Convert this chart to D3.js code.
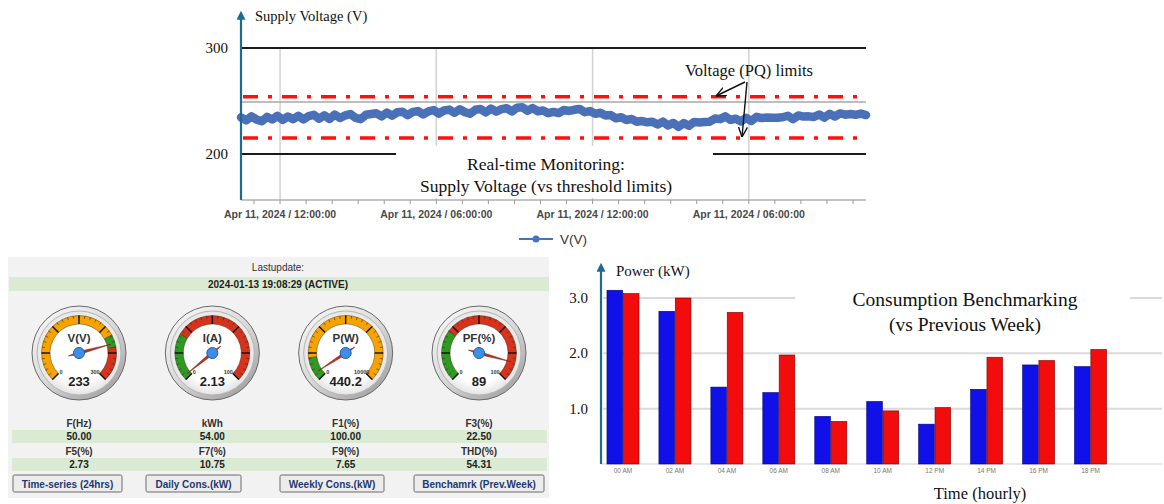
<!DOCTYPE html>
<html>
<head>
<meta charset="utf-8">
<script src="https://cdn.jsdelivr.net/npm/d3@7"></script>
<style>
  body { margin: 0; background: #fff; }
  svg { display: block; }
</style>
</head>
<body>
<script>
// ---------- data: supply voltage (24 h, one reading every 0.2 h) ----------
const voltHours = d3.range(0, 24.0001, 0.2);
const voltValues = [
  234.5, 231.8, 235.6, 232.4, 230.9, 235,
  232.6, 236, 232.2, 235.4, 232.9,
  236, 232.6, 235.8, 236.9, 233.3,
  236.5, 233.1, 237.2, 233.9, 236.4,
  237.7, 234.1, 232.9, 237.1, 237.8,
  238.4, 235.5, 239.1, 236.1, 239.3,
  239.9, 236.7, 239.7, 240.5, 237.3,
  240.3, 241.4, 238.1, 241.1, 241.9,
  238.9, 242.1, 239.5, 238, 241.7,
  242.4, 239.3, 242.9, 239.9, 242.3,
  243.2, 240.1, 243.7, 244.1, 240.7,
  243.4, 240.3, 241, 238.5, 239.7,
  238.6, 241.5, 240.6, 241.7, 242.5,
  239.5, 240.5, 237.9, 238.9, 236.3,
  236.7, 233.7, 234.7, 232.1, 233.1,
  230.5, 231.1, 229.9, 230.4, 227.9,
  230.5, 226.9, 229.3, 225.6, 229.1,
  226.6, 230.3, 229.7, 230.1, 230.5,
  233.4, 232.9, 235.5, 232.1, 233.3,
  230.7, 234.1, 231.1, 235.1, 233.9,
  234.5, 234.1, 234.3, 234.7, 236.1,
  232.9, 236.4, 235.3, 235.5, 234.9,
  237.3, 234.3, 237.9, 235.3, 238.3,
  237.1, 237.7, 237, 238.1, 236.7
];
const voltLimits = [254, 215];
const voltReference = 249;
const voltTicks = [300, 200];
const timeTickHours = [1.5, 7.5, 13.5, 19.5];
const timeTickLabels = ["Apr 11, 2024 / 12:00:00", "Apr 11, 2024 / 06:00:00", "Apr 11, 2024 / 12:00:00", "Apr 11, 2024 / 06:00:00"];
const minorTickHours = d3.range(0.5, 24, 1);

// ---------- data: dashboard ----------
const lastUpdate = "2024-01-13 19:08:29 (ACTIVE)";
const gaugeNames = ["V(V)", "I(A)", "P(W)", "PF(%)"];
const gaugeValues = [233, 2.13, 440.2, 89];
const gaugeValueText = ["233", "2.13", "440.2", "89"];
const gaugeMax = [300, 100, 10000, 100];
const gaugeZones = [
  [[0, 218, "warn"], [218, 240, "ok"], [240, 300, "alarm"]],
  [[0, 28, "ok"], [28, 100, "alarm"]],
  [[0, 1400, "ok"], [1400, 10000, "warn"]],
  [[0, 30, "ok"], [30, 100, "alarm"]]
];
const readLabels1 = ["F(Hz)", "kWh", "F1(%)", "F3(%)"];
const readValues1 = ["50.00", "54.00", "100.00", "22.50"];
const readLabels2 = ["F5(%)", "F7(%)", "F9(%)", "THD(%)"];
const readValues2 = ["2.73", "10.75", "7.65", "54.31"];
const buttonLabels = ["Time-series (24hrs)", "Daily Cons.(kW)", "Weekly Cons.(kW)", "Benchamrk (Prev.Week)"];

// ---------- data: consumption benchmarking ----------
const hourLabels = ["00 AM", "02 AM", "04 AM", "06 AM", "08 AM", "10 AM", "12 PM", "14 PM", "16 PM", "18 PM"];
const powerThisWeek = [3.14, 2.76, 1.39, 1.29, 0.86, 1.13, 0.72, 1.35, 1.79, 1.76];
const powerPrevWeek = [3.08, 3.00, 2.74, 1.97, 0.77, 0.96, 1.02, 1.93, 1.87, 2.07];
const powerTicks = [1, 2, 3];

// ---------- setup ----------
const serif = "'Liberation Serif','Times New Roman',serif";
const sans = "'Liberation Sans',Arial,sans-serif";
const teal = "#1b6c8f";

const svg = d3.select("body").append("svg")
    .attr("width", 1164)
    .attr("height", 504)
    .style("background", "#fff");

const defs = svg.append("defs");
defs.append("marker")
    .attr("id", "axisArrow")
    .attr("viewBox", "0 0 10 10")
    .attr("refX", 2).attr("refY", 5)
    .attr("markerUnits", "userSpaceOnUse")
    .attr("markerWidth", 9).attr("markerHeight", 9)
    .attr("orient", "auto")
  .append("path")
    .attr("d", "M0,0L10,5L0,10z")
    .attr("fill", teal);
defs.append("marker")
    .attr("id", "openArrow")
    .attr("viewBox", "0 0 10 10")
    .attr("refX", 10).attr("refY", 5)
    .attr("markerUnits", "userSpaceOnUse")
    .attr("markerWidth", 10).attr("markerHeight", 10)
    .attr("orient", "auto")
  .append("path")
    .attr("d", "M0,0.5L10,5L0,9.5")
    .attr("fill", "none")
    .attr("stroke", "#111")
    .attr("stroke-width", 1.4);

const bezel = defs.append("linearGradient").attr("id", "bezel")
    .attr("x1", 0).attr("y1", 0).attr("x2", 0.8).attr("y2", 1);
bezel.append("stop").attr("offset", "0%").attr("stop-color", "#fbfbfb");
bezel.append("stop").attr("offset", "55%").attr("stop-color", "#d9d9d9");
bezel.append("stop").attr("offset", "100%").attr("stop-color", "#a0a0a0");
const face = defs.append("radialGradient").attr("id", "face");
face.append("stop").attr("offset", "70%").attr("stop-color", "#ffffff");
face.append("stop").attr("offset", "100%").attr("stop-color", "#e4e4e4");

// =========================================================
// Top: real-time supply voltage
// =========================================================
const xT = d3.scaleLinear([0, 24], [241, 866]);
const yT = d3.scaleLinear([200, 300], [154, 48]);
const topBottom = 200;

const topG = svg.append("g");

topG.append("g")
  .selectAll("line")
  .data(timeTickHours)
  .join("line")
    .attr("x1", d => xT(d)).attr("x2", d => xT(d))
    .attr("y1", yT(300)).attr("y2", topBottom)
    .attr("stroke", "#d2d2d2")
    .attr("stroke-width", 1.5);

topG.append("g")
  .selectAll("line")
  .data(voltTicks)
  .join("line")
    .attr("x1", xT(0)).attr("x2", xT(24))
    .attr("y1", d => yT(d)).attr("y2", d => yT(d))
    .attr("stroke", "#1a1a1a")
    .attr("stroke-width", 1.8);

topG.append("line")
    .attr("x1", xT(0)).attr("x2", xT(24))
    .attr("y1", yT(voltReference)).attr("y2", yT(voltReference))
    .attr("stroke", "#a9a9a9")
    .attr("stroke-width", 1.5);

topG.append("g")
  .selectAll("line")
  .data(voltLimits)
  .join("line")
    .attr("x1", xT(0) + 2).attr("x2", xT(24))
    .attr("y1", d => yT(d)).attr("y2", d => yT(d))
    .attr("stroke", "#ff1010")
    .attr("stroke-width", 3.5)
    .attr("stroke-dasharray", "15,10,4,10");

const voltLine = d3.line()
    .x((d, i) => xT(voltHours[i]))
    .y(d => yT(d));

topG.append("path")
    .datum(voltValues)
    .attr("d", voltLine)
    .attr("fill", "none")
    .attr("stroke", "#4a70b8")
    .attr("stroke-width", 8.5)
    .attr("stroke-linejoin", "round")
    .attr("stroke-linecap", "round");

// white box behind the caption
topG.append("rect")
    .attr("x", 396).attr("y", 146)
    .attr("width", 317).attr("height", 52)
    .attr("fill", "#fff");

// axes
topG.append("line")
    .attr("x1", xT(0)).attr("x2", xT(24))
    .attr("y1", topBottom).attr("y2", topBottom)
    .attr("stroke", "#8a8a8a")
    .attr("stroke-width", 1);

topG.append("g")
  .selectAll("line")
  .data(minorTickHours)
  .join("line")
    .attr("x1", d => xT(d)).attr("x2", d => xT(d))
    .attr("y1", topBottom).attr("y2", topBottom + 4)
    .attr("stroke", "#9a9a9a");

topG.append("line")
    .attr("x1", xT(0)).attr("x2", xT(0))
    .attr("y1", topBottom).attr("y2", 18)
    .attr("stroke", teal)
    .attr("stroke-width", 2.2)
    .attr("marker-end", "url(#axisArrow)");

topG.append("g")
  .selectAll("text")
  .data(voltTicks)
  .join("text")
    .attr("x", 228)
    .attr("y", d => yT(d) + 5)
    .attr("text-anchor", "end")
    .attr("font-family", serif)
    .attr("font-size", 15)
    .attr("fill", "#111")
    .text(d => d);

topG.append("g")
  .selectAll("text")
  .data(timeTickHours)
  .join("text")
    .attr("x", d => xT(d))
    .attr("y", 218)
    .attr("text-anchor", "middle")
    .attr("font-family", sans)
    .attr("font-size", 10.5)
    .attr("font-weight", "bold")
    .attr("fill", "#4a4a4a")
    .text((d, i) => timeTickLabels[i]);

topG.append("text")
    .attr("x", 255).attr("y", 21)
    .attr("font-family", serif)
    .attr("font-size", 14.5)
    .attr("fill", "#111")
    .text("Supply Voltage (V)");

topG.append("text")
    .attr("x", 749).attr("y", 76)
    .attr("text-anchor", "middle")
    .attr("font-family", serif)
    .attr("font-size", 16.5)
    .attr("fill", "#111")
    .text("Voltage (PQ) limits");

topG.append("line")
    .attr("x1", 745).attr("y1", 82)
    .attr("x2", 716).attr("y2", 96)
    .attr("stroke", "#111").attr("stroke-width", 1.4)
    .attr("marker-end", "url(#openArrow)");
topG.append("line")
    .attr("x1", 747).attr("y1", 82)
    .attr("x2", 742).attr("y2", 137)
    .attr("stroke", "#111").attr("stroke-width", 1.4)
    .attr("marker-end", "url(#openArrow)");

topG.append("g")
  .selectAll("text")
  .data(["Real-time Monitoring:", "Supply Voltage (vs threshold limits)"])
  .join("text")
    .attr("x", 546)
    .attr("y", (d, i) => 170 + i * 22)
    .attr("text-anchor", "middle")
    .attr("font-family", serif)
    .attr("font-size", 17.5)
    .attr("fill", "#111")
    .text(d => d);

// legend
topG.append("line")
    .attr("x1", 519).attr("x2", 553)
    .attr("y1", 239).attr("y2", 239)
    .attr("stroke", "#4472c4").attr("stroke-width", 2);
topG.append("circle")
    .attr("cx", 536).attr("cy", 239).attr("r", 3.5)
    .attr("fill", "#4472c4");
topG.append("text")
    .attr("x", 560).attr("y", 244)
    .attr("font-family", sans)
    .attr("font-size", 13.5)
    .attr("fill", "#333")
    .text("V(V)");

// =========================================================
// Bottom left: dashboard
// =========================================================
const dash = svg.append("g");
const colX = d3.scalePoint(gaugeNames, [79, 479]);
const zoneColor = { ok: "#2f9a22", warn: "#f6a300", alarm: "#d7321c" };

dash.append("rect")
    .attr("x", 8).attr("y", 257)
    .attr("width", 541).attr("height", 241)
    .attr("fill", "#f2f2f2");

dash.append("text")
    .attr("x", 278).attr("y", 271)
    .attr("text-anchor", "middle")
    .attr("font-family", sans).attr("font-size", 10)
    .attr("fill", "#333")
    .text("Lastupdate:");
dash.append("rect")
    .attr("x", 9).attr("y", 277)
    .attr("width", 540).attr("height", 14)
    .attr("fill", "#dbead3");
dash.append("text")
    .attr("x", 278).attr("y", 288)
    .attr("text-anchor", "middle")
    .attr("font-family", sans).attr("font-size", 10)
    .attr("font-weight", "bold")
    .attr("fill", "#222")
    .text(lastUpdate);

const deg = Math.PI / 180;
gaugeNames.forEach((name, i) => {
  const cy = 353;
  const angle = d3.scaleLinear([0, gaugeMax[i]], [-135 * deg, 135 * deg]);
  const g = dash.append("g")
      .attr("transform", `translate(${colX(name)},${cy})`);

  g.append("circle").attr("r", 47)
      .attr("fill", "url(#bezel)")
      .attr("stroke", "#6a6a6a").attr("stroke-width", 1);
  g.append("circle").attr("r", 42)
      .attr("fill", "url(#face)")
      .attr("stroke", "#b5b5b5").attr("stroke-width", 1);

  const arc = d3.arc().innerRadius(29).outerRadius(37.5);
  g.append("g")
    .selectAll("path")
    .data(gaugeZones[i])
    .join("path")
      .attr("d", d => arc({ startAngle: angle(d[0]), endAngle: angle(d[1]) }))
      .attr("fill", d => zoneColor[d[2]])
      .attr("stroke", "rgba(40,20,0,0.55)")
      .attr("stroke-width", 0.7);

  // ticks
  const major = d3.range(7).map(k => gaugeMax[i] * k / 6);
  const minor = d3.range(31).map(k => gaugeMax[i] * k / 30);
  g.append("g")
    .selectAll("line")
    .data(minor)
    .join("line")
      .attr("x1", d => Math.sin(angle(d)) * 34.5)
      .attr("y1", d => -Math.cos(angle(d)) * 34.5)
      .attr("x2", d => Math.sin(angle(d)) * 37.5)
      .attr("y2", d => -Math.cos(angle(d)) * 37.5)
      .attr("stroke", "#3a2a1a").attr("stroke-width", 0.6);
  g.append("g")
    .selectAll("line")
    .data(major)
    .join("line")
      .attr("x1", d => Math.sin(angle(d)) * 29)
      .attr("y1", d => -Math.cos(angle(d)) * 29)
      .attr("x2", d => Math.sin(angle(d)) * 37.5)
      .attr("y2", d => -Math.cos(angle(d)) * 37.5)
      .attr("stroke", "#111").attr("stroke-width", 1.4);

  g.append("text")
      .attr("x", -18).attr("y", 21)
      .attr("text-anchor", "middle")
      .attr("font-family", sans).attr("font-size", 5.5)
      .attr("font-weight", "bold").attr("fill", "#333")
      .text(0);
  g.append("text")
      .attr("x", 16).attr("y", 21)
      .attr("text-anchor", "middle")
      .attr("font-family", sans).attr("font-size", 5.5)
      .attr("font-weight", "bold").attr("fill", "#333")
      .text(gaugeMax[i]);

  g.append("text")
      .attr("y", -11)
      .attr("text-anchor", "middle")
      .attr("font-family", sans).attr("font-size", 11.5)
      .attr("font-weight", "bold").attr("fill", "#333")
      .text(name);
  g.append("text")
      .attr("y", 33)
      .attr("text-anchor", "middle")
      .attr("font-family", sans).attr("font-size", 13)
      .attr("font-weight", "bold").attr("fill", "#222")
      .text(gaugeValueText[i]);

  // needle
  const a = angle(gaugeValues[i]);
  const ux = Math.sin(a), uy = -Math.cos(a);
  const px = -uy, py = ux;
  const tip = 33, tail = 11, half = 1.6;
  g.append("path")
      .attr("d", `M${ux * tip},${uy * tip}L${px * half},${py * half}L${-ux * tail},${-uy * tail}L${-px * half},${-py * half}Z`)
      .attr("fill", "#b5321f")
      .attr("stroke", "#7a1d10").attr("stroke-width", 0.5);
  g.append("circle").attr("r", 5.5)
      .attr("fill", "#3e8de6")
      .attr("stroke", "#1d5cb5").attr("stroke-width", 1);
});

function readingRow(labels, values, yLabel, yBar) {
  dash.append("g")
    .selectAll("text")
    .data(labels)
    .join("text")
      .attr("x", (d, i) => colX(gaugeNames[i]))
      .attr("y", yLabel)
      .attr("text-anchor", "middle")
      .attr("font-family", sans).attr("font-size", 10)
      .attr("font-weight", "bold").attr("fill", "#333")
      .text(d => d);
  dash.append("rect")
      .attr("x", 12).attr("y", yBar)
      .attr("width", 535).attr("height", 13)
      .attr("fill", "#dbead3");
  dash.append("g")
    .selectAll("text")
    .data(values)
    .join("text")
      .attr("x", (d, i) => colX(gaugeNames[i]))
      .attr("y", yBar + 10)
      .attr("text-anchor", "middle")
      .attr("font-family", sans).attr("font-size", 10)
      .attr("font-weight", "bold").attr("fill", "#222")
      .text(d => d);
}
readingRow(readLabels1, readValues1, 427, 430);
readingRow(readLabels2, readValues2, 455, 458);

const btnX = [13, 146, 280, 414];
const btnW = [109, 95, 104, 130];
const btn = dash.append("g")
  .selectAll("g")
  .data(buttonLabels)
  .join("g")
    .attr("transform", (d, i) => `translate(${btnX[i]},475)`);
btn.append("rect")
    .attr("width", (d, i) => btnW[i]).attr("height", 17)
    .attr("rx", 1.5)
    .attr("fill", "#ececec")
    .attr("stroke", "#6b6b6b").attr("stroke-width", 1);
btn.append("text")
    .attr("x", (d, i) => btnW[i] / 2).attr("y", 12.5)
    .attr("text-anchor", "middle")
    .attr("font-family", sans).attr("font-size", 10)
    .attr("font-weight", "bold").attr("fill", "#1f3a70")
    .text(d => d);

// =========================================================
// Bottom right: consumption benchmarking
// =========================================================
const bar = svg.append("g");
const xB = d3.scaleBand(hourLabels, [597, 1116.5]).paddingInner(0.384).paddingOuter(0.192);
const xS = d3.scaleBand(["this", "prev"], [0, xB.bandwidth()]).paddingInner(0.04);
const yB = d3.scaleLinear([0, 3], [464, 298]);

bar.append("g")
  .selectAll("line")
  .data(powerTicks)
  .join("line")
    .attr("x1", 603).attr("x2", 1162)
    .attr("y1", d => yB(d)).attr("y2", d => yB(d))
    .attr("stroke", "#dadada")
    .attr("stroke-width", 2);

bar.append("rect")
    .attr("x", 795).attr("y", 284)
    .attr("width", 335).attr("height", 52)
    .attr("fill", "#fff");

bar.append("line")
    .attr("x1", 601).attr("x2", 1162)
    .attr("y1", yB(0)).attr("y2", yB(0))
    .attr("stroke", "#cfcfcf");

const groups = bar.append("g")
  .selectAll("g")
  .data(hourLabels)
  .join("g")
    .attr("transform", d => `translate(${xB(d)},0)`);
groups.append("rect")
    .attr("x", xS("this"))
    .attr("y", (d, i) => yB(powerThisWeek[i]))
    .attr("width", xS.bandwidth())
    .attr("height", (d, i) => yB(0) - yB(powerThisWeek[i]))
    .attr("fill", "#1010e8")
    .attr("stroke", "#00007a").attr("stroke-width", 0.6);
groups.append("rect")
    .attr("x", xS("prev"))
    .attr("y", (d, i) => yB(powerPrevWeek[i]))
    .attr("width", xS.bandwidth())
    .attr("height", (d, i) => yB(0) - yB(powerPrevWeek[i]))
    .attr("fill", "#f20c0c")
    .attr("stroke", "#7a0000").attr("stroke-width", 0.6);

bar.append("g")
  .selectAll("text")
  .data(hourLabels)
  .join("text")
    .attr("x", d => xB(d) + xB.bandwidth() / 2)
    .attr("y", 473)
    .attr("text-anchor", "middle")
    .attr("font-family", sans).attr("font-size", 6.5)
    .attr("fill", "#777")
    .text(d => d);

bar.append("line")
    .attr("x1", 601).attr("x2", 601)
    .attr("y1", yB(0)).attr("y2", 270)
    .attr("stroke", teal)
    .attr("stroke-width", 2.2)
    .attr("marker-end", "url(#axisArrow)");

bar.append("g")
  .selectAll("text")
  .data(powerTicks)
  .join("text")
    .attr("x", 588)
    .attr("y", d => yB(d) + 5)
    .attr("text-anchor", "end")
    .attr("font-family", serif).attr("font-size", 15)
    .attr("fill", "#111")
    .text(d => d3.format(".1f")(d));

bar.append("text")
    .attr("x", 616).attr("y", 276)
    .attr("font-family", serif).attr("font-size", 15)
    .attr("fill", "#111")
    .text("Power (kW)");

bar.append("g")
  .selectAll("text")
  .data(["Consumption Benchmarking", "(vs Previous Week)"])
  .join("text")
    .attr("x", 965)
    .attr("y", (d, i) => 306 + i * 25)
    .attr("text-anchor", "middle")
    .attr("font-family", serif).attr("font-size", 19.5)
    .attr("fill", "#111")
    .text(d => d);

bar.append("text")
    .attr("x", 980).attr("y", 499)
    .attr("text-anchor", "middle")
    .attr("font-family", serif).attr("font-size", 16.5)
    .attr("fill", "#111")
    .text("Time (hourly)");
</script>
</body>
</html>
